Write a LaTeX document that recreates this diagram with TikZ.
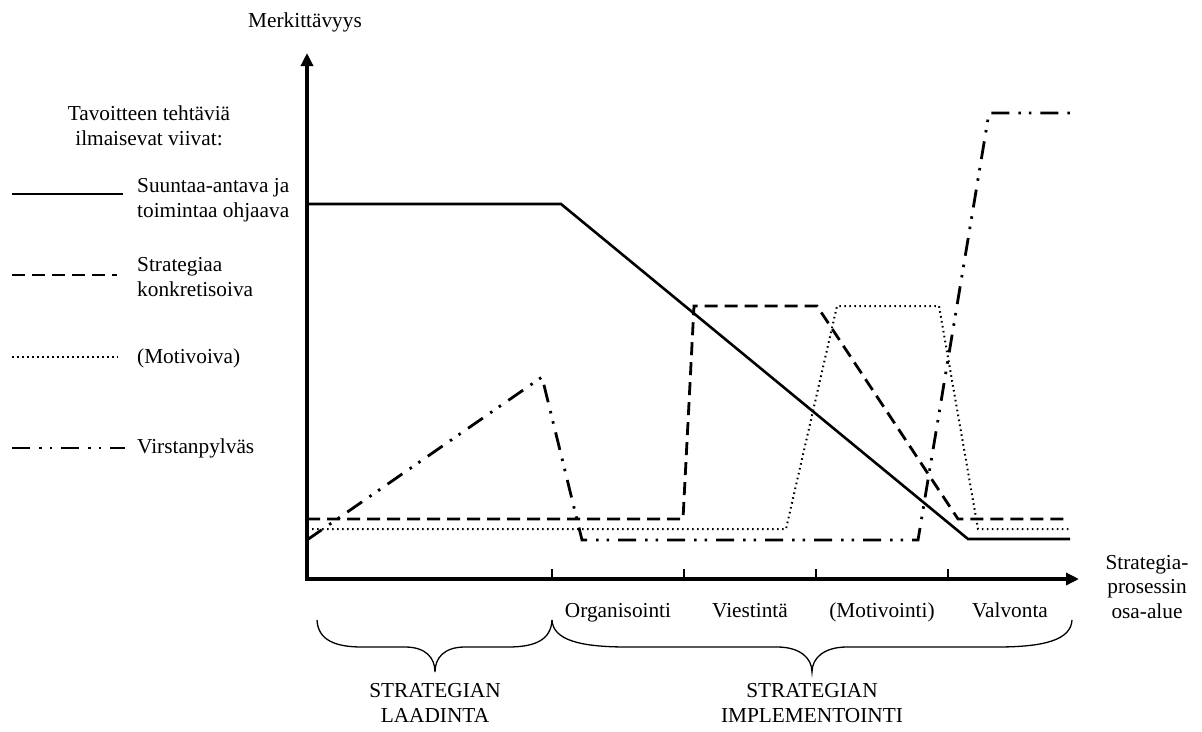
\documentclass[tikz,border=0pt]{standalone}
\usepackage{fontspec}
\setmainfont{Liberation Serif}
\usetikzlibrary{arrows.meta}
\begin{document}
\begin{tikzpicture}[x=1pt,y=-1pt,
  txt/.style={font=\fontsize{21.3}{24.5}\selectfont, inner sep=0pt},
  oneline/.style={txt, text height=15pt, text depth=5pt},
  axisline/.style={line width=3.5pt, line join=miter},
  solidline/.style={line width=2.6pt},
  dashline/.style={line width=2.8pt, dash pattern=on 13pt off 7pt},
  dotline/.style={line width=2pt, dash pattern=on 1.6pt off 3.4pt},
  mileline/.style={line width=2.8pt, dash pattern=on 18pt off 9pt on 2.5pt off 8pt on 2.5pt off 9pt},
  tickline/.style={line width=1.3pt},
  bracepath/.style={line width=1.3pt},
]
\useasboundingbox (0,0) rectangle (1202,731);

% axes
\coordinate (ytop) at (307,53);
\coordinate (origin) at (307,579);
\coordinate (xend) at (1079,579);
\draw[axisline, {Triangle[length=13pt,width=12pt]}-{Triangle[length=13pt,width=12pt]}] (ytop) |- (xend);
\node[oneline] (ylab) at (305,22) {Merkittävyys};
\node[txt, align=center] (xlab) at (1147,587) {Strategia-\\prosessin\\osa-alue};

% ticks and phase labels
\foreach \n/\x in {t1/552, t2/684, t3/816, t4/948}{
  \coordinate (\n) at (\x,579);
  \draw[tickline] (\n) -- ++(0,-10);
}
\node[oneline] (org) at (618,612) {Organisointi};
\node[oneline] (vie) at (750,612) {Viestintä};
\node[oneline] (mot) at (882,612) {(Motivointi)};
\node[oneline] (val) at (1010,612) {Valvonta};

% braces
\draw[bracepath] (317,620) .. controls (318,640) and (335,647) .. (362,647) -- (405,647)
  .. controls (426,647) and (435,658) .. (435,672)
  .. controls (435,658) and (444,647) .. (465,647) -- (508,647)
  .. controls (535,647) and (551,640) .. (552,620);
\draw[bracepath] (552,620) .. controls (553,640) and (580,647) .. (627,647) -- (777,647)
  .. controls (800,647) and (812,658) .. (812,672)
  .. controls (812,658) and (824,647) .. (847,647) -- (997,647)
  .. controls (1044,647) and (1071,640) .. (1072,620);
\node[txt, align=center] (laad) at (435,703) {STRATEGIAN\\LAADINTA};
\node[txt, align=center] (impl) at (812,703) {STRATEGIAN\\IMPLEMENTOINTI};

% curves of the chart
\draw[solidline] (307,204) -- (561,204) -- (968,539) -- (1070,539);
\draw[dashline] (307,519) -- (683,519) -- (694,306) -- (817,306) -- (958,519) -- (1070,519);
\draw[dotline] (307,529) -- (786,529) -- (837,306) -- (939,306) -- (978,529) -- (1070,529);
\draw[mileline] (307,540) -- (542,377) -- (582,540) -- (918,540) -- (989,113) -- (1070,113);

% legend
\node[txt, align=center] (legtitle) at (149,126) {Tavoitteen tehtäviä\\ilmaisevat viivat:};
\coordinate (l1a) at (12,194); \coordinate (l1b) at (123,194);
\coordinate (l2a) at (12,275); \coordinate (l2b) at (117,275);
\coordinate (l3a) at (12,357); \coordinate (l3b) at (118,357);
\coordinate (l4a) at (12,448); \coordinate (l4b) at (125,448);
\draw[solidline] (l1a) -- (l1b);
\draw[dashline] (l2a) -- (l2b);
\draw[dotline] (l3a) -- (l3b);
\draw[mileline] (l4a) -- (l4b);
\node[txt, anchor=west, align=left] (leg1) at (137,200) {Suuntaa-antava ja\\toimintaa ohjaava};
\node[txt, anchor=west, align=left] (leg2) at (137,277) {Strategiaa\\konkretisoiva};
\node[oneline, anchor=west] (leg3) at (137,358) {(Motivoiva)};
\node[oneline, anchor=west] (leg4) at (137,448) {Virstanpylväs};
\end{tikzpicture}
\end{document}
